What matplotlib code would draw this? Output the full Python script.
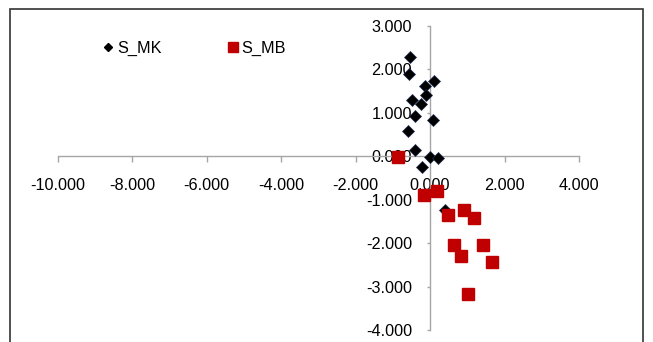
import matplotlib
matplotlib.use("Agg")
import matplotlib.pyplot as plt
from matplotlib.lines import Line2D
from matplotlib.patches import Rectangle
from matplotlib.ticker import FormatStrFormatter, MultipleLocator

plt.rcParams["font.family"] = ["Liberation Sans", "DejaVu Sans"]

# S_MK series (black diamonds)
mk_x = [-0.54, -0.56, 0.12, -0.13, -0.12, -0.47, -0.25, -0.40, 0.07, -0.58,
        -0.40, 0.00, 0.22, -0.22, 0.40]
mk_y = [2.29, 1.90, 1.73, 1.62, 1.40, 1.30, 1.21, 0.93, 0.84, 0.58,
        0.15, -0.01, -0.05, -0.25, -1.24]

# S_MB series (red squares)
mb_x = [-0.85, -0.15, 0.18, 0.47, 0.91, 1.19, 0.65, 1.43, 0.83, 1.66, 1.03]
mb_y = [-0.01, -0.88, -0.80, -1.36, -1.24, -1.42, -2.05, -2.05, -2.30, -2.43, -3.17]

fig = plt.figure(figsize=(6.53, 3.42), dpi=100)
# outer chart frame
fig.patches.append(Rectangle((10 / 653, -0.1), 633 / 653, 1 - 9 / 342 + 0.1,
                             transform=fig.transFigure, fill=False,
                             edgecolor="#333333", lw=1.2))

ax = fig.add_axes([57.5 / 653, 1 - 330 / 342, 521.5 / 653, 304 / 342])
ax.plot(mk_x, mk_y, ls="none", marker="D", ms=6.3, color="black",
        mec="#1f2f4f", mew=0.5, zorder=3)
ax.plot(mb_x, mb_y, ls="none", marker="s", ms=8.3, color="#C00000",
        mec="#C00000", zorder=4)

ax.set_xlim(-10, 4)
ax.set_ylim(-4, 3)
ax.xaxis.set_major_locator(MultipleLocator(2))
ax.yaxis.set_major_locator(MultipleLocator(1))
ax.xaxis.set_major_formatter(FormatStrFormatter("%.3f"))
ax.yaxis.set_major_formatter(FormatStrFormatter("%.3f"))

for side in ("top", "right"):
    ax.spines[side].set_visible(False)
ax.spines["left"].set_position(("data", 0))
ax.spines["bottom"].set_position(("data", 0))
for side in ("left", "bottom"):
    ax.spines[side].set_color("#a6a6a6")
    ax.spines[side].set_linewidth(1.0)

ax.tick_params(axis="x", direction="out", length=4.5, width=1.0, color="#a6a6a6",
               pad=11, labelsize=11.7, labelcolor="black")
ax.tick_params(axis="y", direction="out", length=2.5, width=1.0, color="#a6a6a6",
               pad=10.5, labelsize=11.7, labelcolor="black")
ax.patch.set_alpha(0)

handles = [
    Line2D([], [], ls="none", marker="D", ms=4.5, color="black"),
    Line2D([], [], ls="none", marker="s", ms=7, color="#C00000"),
]
fig.legend(handles, ["S_MK", "S_MB"], ncol=2, frameon=False,
           loc="center left", bbox_to_anchor=(103 / 653, 1 - 48 / 342),
           fontsize=11.7, handlelength=0.6, handletextpad=0.25,
           columnspacing=4.1, borderpad=0, borderaxespad=0)

fig.savefig("out.png", dpi=100)
